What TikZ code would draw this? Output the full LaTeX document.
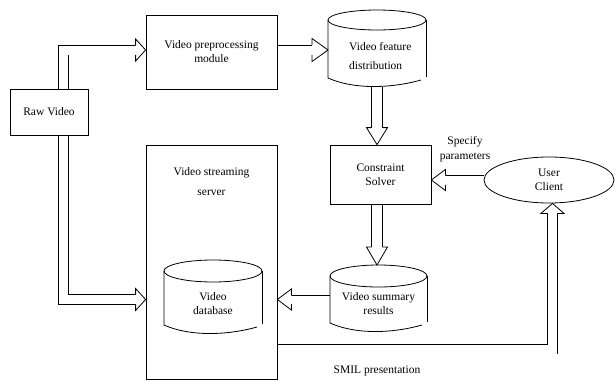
\documentclass[tikz,border=0pt]{standalone}
\usepackage{fontspec}
\setmainfont{Liberation Serif}
\usetikzlibrary{calc,backgrounds,shapes.geometric}
\newcommand\ahead[5]{%
  \begin{scope}[shift={(#1)},rotate=#2]
    \filldraw[hd] (-#3,#5) -- (-#3,#4) -- (0,0) -- (-#3,-#4) -- (-#3,-#5);
  \end{scope}}
\newcommand\cylshape[5]{%
  \draw[ln] ({(#1+#2)/2},#3) ellipse [x radius={(#2-#1)/2}, y radius=#4];
  \draw[ln] (#1,#3) -- (#1,#5) .. controls ({#1+0.3*(#2-#1)},{#5+13}) and ({#1+0.7*(#2-#1)},{#5+9}) .. ({#2-5},{#5+2});
  \draw[ln] (#2,#3) -- (#2,{#5-1});}
\begin{document}
\begin{tikzpicture}[x=1pt,y=-1pt,
  ln/.style={line width=0.8pt},
  box/.style={draw, line width=0.8pt, fill=white, inner sep=0pt, align=center, font=\fontsize{11.5}{14}\selectfont},
  txt/.style={inner sep=0pt, align=center, font=\fontsize{11.5}{14}\selectfont},
  ghost/.style={inner sep=0pt, outer sep=0pt},
  dbl/.style={draw, line width=0.8pt, double, double distance=9pt, line join=miter},
  dblw/.style={dbl, double distance=10pt},
  hd/.style={draw, fill=white, line width=0.8pt, line join=miter}]
\useasboundingbox (0,0) rectangle (616,381);

% boxes
\node[box, minimum width=78pt, minimum height=46pt] (raw) at (49,112) {Raw Video};
\node[box, minimum width=131pt, minimum height=74pt] (pre) at (211.5,52) {Video preprocessing\\module};
\node[box, minimum width=131pt, minimum height=234pt] (server) at (211.5,262) {};
\node[txt, font=\fontsize{11.5}{20}\selectfont] (servertxt) at (211.5,182) {Video streaming\\server};
\node[box, minimum width=101pt, minimum height=59pt] (solver) at (380.5,174.5) {Constraint\\Solver};
\node[box, ellipse, minimum width=130pt, minimum height=46pt] (client) at (549,180) {User\\Client};

% cylinders
\cylshape{328}{426}{20}{10}{78}
\node[ghost, minimum width=98pt, minimum height=77pt] (feat) at (377,48.5) {};
\node[txt, align=left, anchor=west, font=\fontsize{11.5}{19}\selectfont] (feattxt) at (349,56.5) {Video feature\\distribution};

\cylshape{330}{427}{276}{11}{323}
\node[ghost, minimum width=97pt, minimum height=69pt] (summ) at (378.5,299.5) {};
\node[txt] (summtxt) at (378.5,304) {Video summary\\results};

\cylshape{164}{262}{271}{11}{325}
\node[ghost, minimum width=98pt, minimum height=75pt] (db) at (213,297.5) {};
\node[txt] (dbtxt) at (213,304) {Video\\database};

% labels
\node[txt, font=\fontsize{11.5}{15}\selectfont] (spec) at (465,149.5) {Specify\\parameters};
\node[txt] (smil) at (377,371) {SMIL presentation};

\coordinate (lvl) at (0,299.5);
\coordinate (lvl2) at (0,349);

\begin{pgfonlayer}{background}
  % Raw -> preprocessing
  \coordinate (t1) at ([yshift=2pt]pre.west);
  \draw[dbl] ([xshift=14.5pt]raw.north) |- ([xshift=-10pt]t1);
  \ahead{t1}{0}{10}{11}{4.9}
  % Raw -> server
  \coordinate (t2) at (server.west |- lvl);
  \draw[dbl] ([xshift=14.5pt]raw.south) |- ([xshift=-10pt]t2);
  \ahead{t2}{0}{10}{11}{4.9}
  % preprocessing -> feature
  \coordinate (t3) at (feat.west |- t1);
  \draw[dbl] (pre.east |- t1) -- ([xshift=-16pt]t3);
  \ahead{t3}{0}{16}{11.5}{4.9}
  % feature -> solver
  \coordinate (t4) at (feat.south |- solver.north);
  \draw[dblw] (feat.south) -- ([yshift=17pt]t4);
  \ahead{t4}{-90}{17}{10.5}{5.4}
  % solver -> summary
  \coordinate (t5) at (feat.south |- summ.north);
  \draw[dblw] (feat.south |- solver.south) -- ([yshift=18pt]t5);
  \ahead{t5}{-90}{18}{10.5}{5.4}
  % client -> solver
  \coordinate (t6) at (solver.east |- client.west);
  \draw[dbl] (client.west) -- ([xshift=14pt]t6);
  \ahead{t6}{180}{14}{10.5}{4.9}
  % summary -> server
  \coordinate (t7) at (server.east |- lvl);
  \draw[dbl, double distance=8pt] (summ.west |- lvl) -- ([xshift=14pt]t7);
  \ahead{t7}{180}{14}{10.5}{4.4}
  % server -> client (SMIL)
  \coordinate (s8) at (server.east |- lvl2);
  \coordinate (t8) at ([xshift=3.5pt]client.south);
  \draw[dbl] (s8) -| ([yshift=-10pt]t8);
  \ahead{t8}{90}{10}{11.5}{4.9}
\end{pgfonlayer}
\end{tikzpicture}
\end{document}
